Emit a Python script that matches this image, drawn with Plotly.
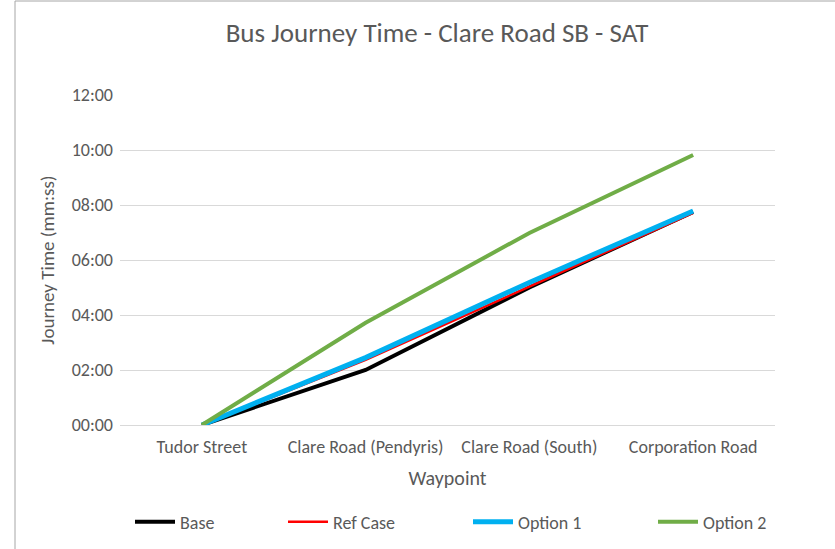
import plotly.graph_objects as go

waypoints = ["Tudor Street", "Clare Road (Pendyris)", "Clare Road (South)", "Corporation Road"]
# journey times in seconds
base = [0, 120, 300, 465]
ref_case = [0, 142, 302, 463]
option1 = [0, 147, 311, 467]
option2 = [0, 223, 419, 589]

tick_seconds = [0, 120, 240, 360, 480, 600, 720]
tick_labels = ["00:00", "02:00", "04:00", "06:00", "08:00", "10:00", "12:00"]

series = [
    ("Base", base, "#000000", 4, "legend"),
    ("Ref Case", ref_case, "#ff0000", 2.5, "legend2"),
    ("Option 1", option1, "#00b0f0", 5, "legend3"),
    ("Option 2", option2, "#70ad47", 4, "legend4"),
]

font_family = "Carlito, Calibri, Lato, sans-serif"
grey = "#595959"

L, R, T, B = 120, 60, 95, 124
W, H = 835, 549
pw, ph = W - L - R, H - T - B

def px_x(x):
    return (x - L) / pw

def px_y(y):
    return (H - B - y) / ph

fig = go.Figure()
for name, vals, color, w, lg in series:
    fig.add_trace(go.Scatter(
        x=waypoints, y=vals, name=name, mode="lines",
        line=dict(color=color, width=w), legend=lg,
    ))

legend_x = [130, 283, 468, 653]
legend_common = dict(orientation="h", xanchor="left", yanchor="middle", y=px_y(522),
                     font=dict(size=18, color=grey, family=font_family),
                     itemwidth=40, bgcolor="rgba(0,0,0,0)", borderwidth=0)

border = dict(color="#a6a6a6", width=1)

fig.update_layout(
    width=W, height=H,
    margin=dict(l=L, r=R, t=T, b=B, autoexpand=False),
    paper_bgcolor="white", plot_bgcolor="white",
    font=dict(family=font_family, color=grey, size=18),
    title=dict(text="Bus Journey Time - Clare Road SB - SAT", xref="container", x=437 / W,
               xanchor="center", y=1 - 33 / H, yanchor="middle",
               font=dict(size=27, color=grey, family=font_family)),
    showlegend=True,
    legend=dict(x=px_x(legend_x[0]), **legend_common),
    legend2=dict(x=px_x(legend_x[1]), **legend_common),
    legend3=dict(x=px_x(legend_x[2]), **legend_common),
    legend4=dict(x=px_x(legend_x[3]), **legend_common),
    xaxis=dict(
        type="category", range=[-0.5, 3.5], showgrid=False,
        showline=True, linecolor="#d9d9d9", linewidth=1,
        ticks="", tickfont=dict(size=18, color=grey), ticklabelstandoff=5,
        title=dict(text="Waypoint", font=dict(size=20, color=grey), standoff=14),
    ),
    yaxis=dict(
        range=[0, 720], tickvals=tick_seconds, ticktext=tick_labels,
        showgrid=True, gridcolor="#d9d9d9", gridwidth=1,
        zeroline=False, showline=False, ticks="",
        tickfont=dict(size=18, color=grey), ticklabelstandoff=6,
        title=dict(text="Journey Time (mm:ss)", font=dict(size=19, color=grey), standoff=12),
    ),
    shapes=[
        dict(type="line", xref="paper", yref="paper",
             x0=px_x(15), x1=px_x(15), y0=px_y(549), y1=px_y(1), line=border, layer="below"),
        dict(type="line", xref="paper", yref="paper",
             x0=px_x(15), x1=px_x(835), y0=px_y(1), y1=px_y(1), line=border, layer="below"),
    ],
)

fig.write_html("out.html", config={"displayModeBar": False},
               post_script="document.body.style.margin='0';document.body.style.overflow='hidden';")
